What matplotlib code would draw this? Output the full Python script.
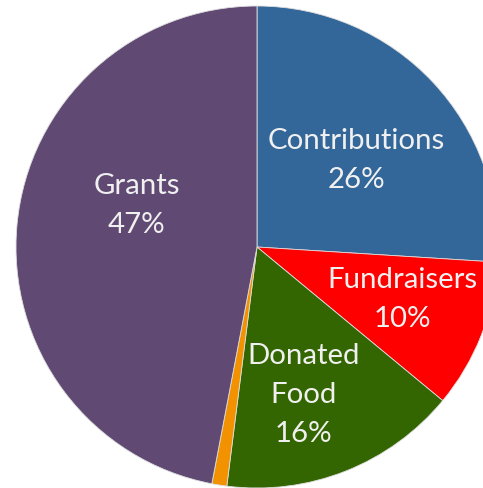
import numpy as np
import matplotlib.pyplot as plt

# revenue sources, clockwise from 12 o'clock
categories = ['Contributions', 'Fundraisers', 'Donated\nFood', 'Other', 'Grants']
shares = [26, 10, 16, 1, 47]
show_label = [True, True, True, False, True]
colors = ['#336699', '#ff0000', '#336600', '#f39200', '#604a73']

# label placement (distance from centre as fraction of radius, angle tweak in deg)
label_r = [0.55, 0.64, 0.64, 0.0, 0.53]
label_dtheta = [-2, 2, -4, 0, -14]

plt.rcParams['font.family'] = ['Lato', 'DejaVu Sans']

fig = plt.figure(figsize=(4.83, 4.89), dpi=100)
ax = fig.add_axes([0, 0, 1, 1])

wedges, _ = ax.pie(shares, colors=colors, startangle=90, counterclock=False,
                   radius=1, center=(0, 0),
                   wedgeprops=dict(edgecolor='#dddddd', linewidth=0.6))

for w, name, val, show, r, dt in zip(wedges, categories, shares, show_label, label_r, label_dtheta):
    if not show:
        continue
    mid = np.deg2rad((w.theta1 + w.theta2) / 2 + dt)
    ax.text(r * np.cos(mid), r * np.sin(mid), f'{name}\n{val}%',
            ha='center', va='center', color='#f0f0f0', fontsize=21.2,
            linespacing=1.6)

# the original picture is cropped on the right and bottom
R = 241.0
ax.set_xlim(-257 / R, (483 - 257) / R)
ax.set_ylim(-(489 - 248) / R, 248 / R)
ax.set_aspect('auto')
ax.axis('off')

fig.savefig('out.png', dpi=100)
